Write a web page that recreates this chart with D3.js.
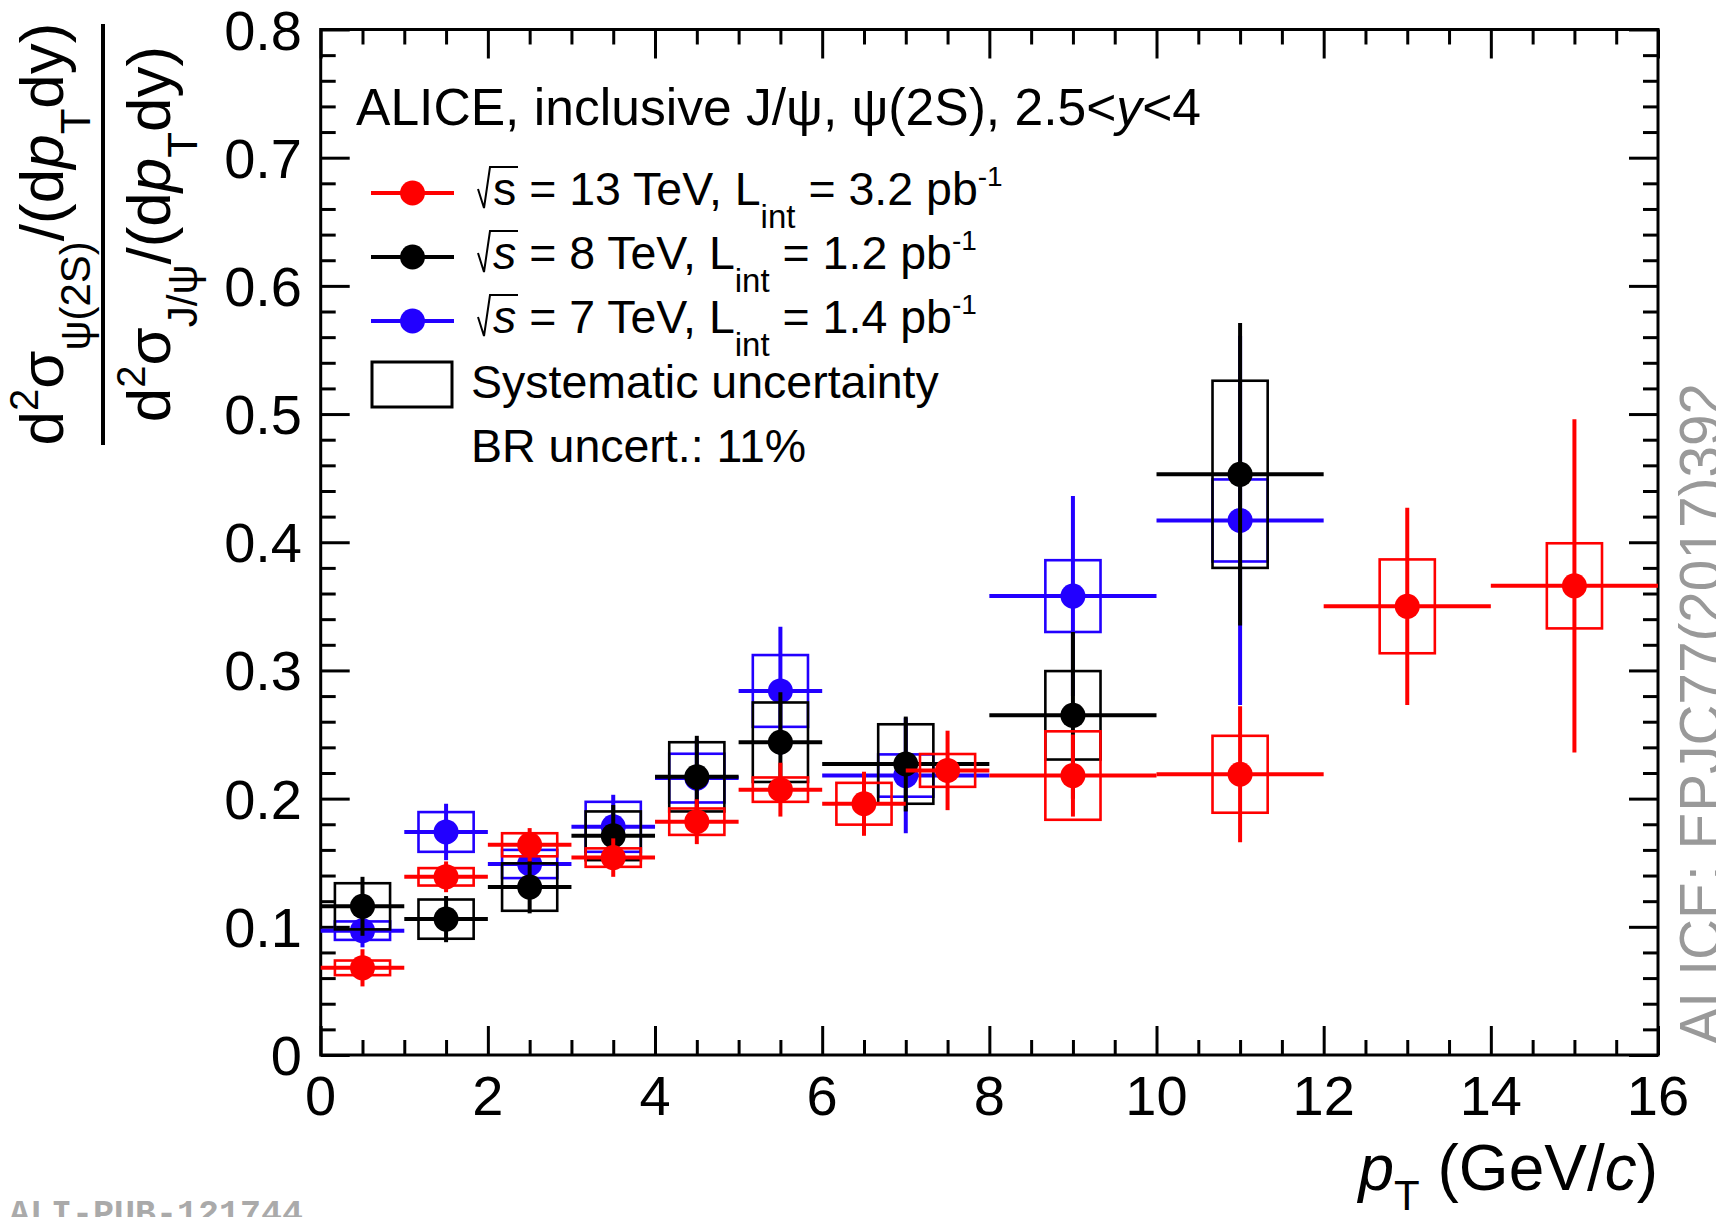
<!DOCTYPE html>
<html><head><meta charset="utf-8">
<script src="https://cdn.jsdelivr.net/npm/d3@7"></script>
<style>
body{margin:0;background:#fff}
svg{display:block}
text{font-family:"Liberation Sans",Arial,Helvetica,sans-serif;fill:#000}
</style>
</head><body>
<svg id="c" width="1716" height="1217"></svg>
<script>
// ---------- data ----------
// 13 TeV (red)
const lo13 = [0,1,2,3,4,5,6,7,8,10,12,14];
const hi13 = [1,2,3,4,5,6,7,8,10,12,14,16];
const val13 = [0.068,0.139,0.164,0.154,0.182,0.207,0.196,0.222,0.218,0.219,0.350,0.366];
const stat13 = [0.0145,0.012,0.013,0.015,0.0175,0.021,0.025,0.031,0.032,0.053,0.077,0.130];
const sys13 = [0.0057,0.0068,0.009,0.0072,0.0103,0.0095,0.0163,0.0128,0.0345,0.030,0.0366,0.0332];
// 8 TeV (black)
const lo8 = [0,1,2,3,4,5,6,8,10];
const hi8 = [1,2,3,4,5,6,8,10,12];
const val8 = [0.116,0.106,0.131,0.171,0.217,0.244,0.227,0.265,0.453];
const stat8 = [0.023,0.018,0.0205,0.024,0.032,0.039,0.037,0.065,0.118];
const sys8 = [0.018,0.0153,0.0185,0.019,0.027,0.031,0.031,0.0345,0.073];
// 7 TeV (blue)
const lo7 = [0,1,2,3,4,5,6,8,10];
const hi7 = [1,2,3,4,5,6,8,10,12];
const val7 = [0.097,0.174,0.149,0.178,0.216,0.284,0.218,0.358,0.417];
const stat7 = [0.013,0.022,0.020,0.025,0.030,0.050,0.045,0.078,0.144];
const sys7 = [0.0072,0.0155,0.011,0.0195,0.019,0.028,0.0165,0.028,0.032];

const xMajor = [0,2,4,6,8,10,12,14,16];
const yMajor = [0,0.1,0.2,0.3,0.4,0.5,0.6,0.7,0.8];
const yLabels = ["0","0.1","0.2","0.3","0.4","0.5","0.6","0.7","0.8"];
const legEnergy = ["13","8","7"];
const legLumi = ["3.2","1.2","1.4"];

// ---------- setup ----------
const svg = d3.select("#c");
const L=320.7, R=1658, T=29.5, B=1055;
const x = d3.scaleLinear().domain([0,16]).range([L,R]);
const y = d3.scaleLinear().domain([0,0.8]).range([B,T]);
const RED="#ff0000", BLACK="#000000", BLUE="#2200ff";

// ---------- axes / ticks ----------
const xMinor = d3.range(0,33).map(i=>i*0.5).filter(v=>v%2!==0);
const yMinor = d3.range(0,41).map(i=>+(i*0.02).toFixed(2)).filter((v,i)=>i%5!==0);
function tickAxis(axis, tr, vals, size){
  const g = svg.append("g").attr("transform",tr)
    .call(axis.tickValues(vals).tickSize(size).tickFormat(""));
  g.select(".domain").remove();
  g.selectAll("line").attr("stroke","#000").attr("stroke-width",3);
}
tickAxis(d3.axisBottom(x), `translate(0,${B})`, xMajor, -29);
tickAxis(d3.axisBottom(x), `translate(0,${B})`, xMinor, -15);
tickAxis(d3.axisTop(x), `translate(0,${T})`, xMajor, -29);
tickAxis(d3.axisTop(x), `translate(0,${T})`, xMinor, -15);
tickAxis(d3.axisLeft(y), `translate(${L},0)`, yMajor, -29);
tickAxis(d3.axisLeft(y), `translate(${L},0)`, yMinor, -15);
tickAxis(d3.axisRight(y), `translate(${R},0)`, yMajor, -29);
tickAxis(d3.axisRight(y), `translate(${R},0)`, yMinor, -15);

svg.append("rect").attr("x",L).attr("y",T).attr("width",R-L).attr("height",B-T)
  .attr("fill","none").attr("stroke","#000").attr("stroke-width",3);

// tick labels
svg.selectAll("text.xl").data(xMajor).join("text").attr("class","xl")
  .attr("x",d=>x(d)).attr("y",1115).attr("text-anchor","middle")
  .attr("font-size",56).text(d=>d);
svg.selectAll("text.yl").data(yMajor).join("text").attr("class","yl")
  .attr("x",302).attr("y",d=>y(d)+20).attr("text-anchor","end")
  .attr("font-size",56).text((d,i)=>yLabels[i]);

// x title
const xt = svg.append("text").attr("x",R).attr("y",1190).attr("text-anchor","end").attr("font-size",64);
xt.append("tspan").attr("font-style","italic").text("p");
xt.append("tspan").attr("font-size",42).attr("dy",20).text("T");
xt.append("tspan").attr("dy",-20).text(" (GeV/");
xt.append("tspan").attr("font-style","italic").text("c");
xt.append("tspan").text(")");

// y title (fraction)
function yTitleLine(bx, sub){
  const t = svg.append("text").attr("transform",`translate(${bx},234) rotate(-90)`)
    .attr("text-anchor","middle").attr("font-size",62);
  t.append("tspan").text("d");
  t.append("tspan").attr("font-size",40).attr("dy",-25).text("2");
  t.append("tspan").attr("dy",25).text("σ");
  t.append("tspan").attr("font-size",42).attr("dy",27).text(sub);
  t.append("tspan").attr("dy",-27).text("/(d");
  t.append("tspan").attr("font-style","italic").text("p");
  t.append("tspan").attr("font-size",42).attr("dy",27).text("T");
  t.append("tspan").attr("dy",-27).text("dy)");
}
yTitleLine(63, "ψ(2S)");
yTitleLine(170, "J/ψ");
svg.append("line").attr("x1",103).attr("x2",103).attr("y1",24).attr("y2",445)
  .attr("stroke","#000").attr("stroke-width",4);

// ---------- data drawing ----------
function drawSeries(lo, hi, val, stat, sys, color){
  const g = svg.append("g");
  const d = val.map((v,i)=>({lo:lo[i],hi:hi[i],v,s:stat[i],sy:sys[i],m:(lo[i]+hi[i])/2}));
  g.selectAll("rect").data(d).join("rect")
    .attr("x",p=>x(p.m-0.33)).attr("width",p=>x(p.m+0.33)-x(p.m-0.33))
    .attr("y",p=>y(p.v+p.sy)).attr("height",p=>y(p.v-p.sy)-y(p.v+p.sy))
    .attr("fill","none").attr("stroke",color).attr("stroke-width",2.6);
  g.selectAll("line.h").data(d).join("line").attr("class","h")
    .attr("x1",p=>x(p.lo)).attr("x2",p=>x(p.hi)).attr("y1",p=>y(p.v)).attr("y2",p=>y(p.v))
    .attr("stroke",color).attr("stroke-width",4);
  g.selectAll("line.v").data(d).join("line").attr("class","v")
    .attr("x1",p=>x(p.m)).attr("x2",p=>x(p.m)).attr("y1",p=>y(p.v-p.s)).attr("y2",p=>y(p.v+p.s))
    .attr("stroke",color).attr("stroke-width",4);
  g.selectAll("circle").data(d).join("circle")
    .attr("cx",p=>x(p.m)).attr("cy",p=>y(p.v)).attr("r",12.5).attr("fill",color);
}
drawSeries(lo7, hi7, val7, stat7, sys7, BLUE);
drawSeries(lo8, hi8, val8, stat8, sys8, BLACK);
drawSeries(lo13, hi13, val13, stat13, sys13, RED);

// ---------- legend ----------
const hdr = svg.append("text").attr("x",356).attr("y",125).attr("font-size",51.6);
hdr.append("tspan").text("ALICE, inclusive J/ψ, ψ(2S), 2.5<");
hdr.append("tspan").attr("font-style","italic").text("y");
hdr.append("tspan").text("<4");

const legColors = [RED, BLACK, BLUE];
const legY = [193, 257, 321];
const legBase = [205, 269, 333];
legColors.forEach((c,i)=>{
  svg.append("line").attr("x1",371).attr("x2",454).attr("y1",legY[i]).attr("y2",legY[i])
    .attr("stroke",c).attr("stroke-width",4);
  svg.append("circle").attr("cx",412.5).attr("cy",legY[i]).attr("r",12.5).attr("fill",c);
  const b = legBase[i];
  svg.append("path").attr("d",`M478,${b-16} L484,${b+3} L490,${b-38} L518,${b-38}`)
    .attr("fill","none").attr("stroke","#000").attr("stroke-width",2);
  const t = svg.append("text").attr("x",493).attr("y",b).attr("font-size",46.5);
  t.append("tspan").attr("font-style", i===0?"normal":"italic").text("s");
  t.append("tspan").text(` = ${legEnergy[i]} TeV, L`);
  t.append("tspan").attr("font-size",33).attr("dy",23).text("int");
  t.append("tspan").attr("dy",-23).text(` = ${legLumi[i]} pb`);
  t.append("tspan").attr("font-size",28).attr("dy",-19).text("-1");
});
svg.append("rect").attr("x",372).attr("y",362).attr("width",80).attr("height",45)
  .attr("fill","none").attr("stroke","#000").attr("stroke-width",3);
svg.append("text").attr("x",471).attr("y",398).attr("font-size",46.5).text("Systematic uncertainty");
svg.append("text").attr("x",471).attr("y",462).attr("font-size",46.5).text("BR uncert.: 11%");

// ---------- watermarks ----------
svg.append("text").attr("transform","translate(1721,1045) rotate(-90)")
  .attr("font-size",60).attr("textLength",662).attr("lengthAdjust","spacingAndGlyphs")
  .style("fill","#999").text("ALICE: EPJC77(2017)392");
svg.append("text").attr("x",9).attr("y",1224)
  .style("font-family","'Liberation Mono','DejaVu Sans Mono',monospace").style("font-weight","bold")
  .attr("font-size",35).style("fill","#aaaaaa").text("ALI-PUB-121744");
</script>
</body></html>
